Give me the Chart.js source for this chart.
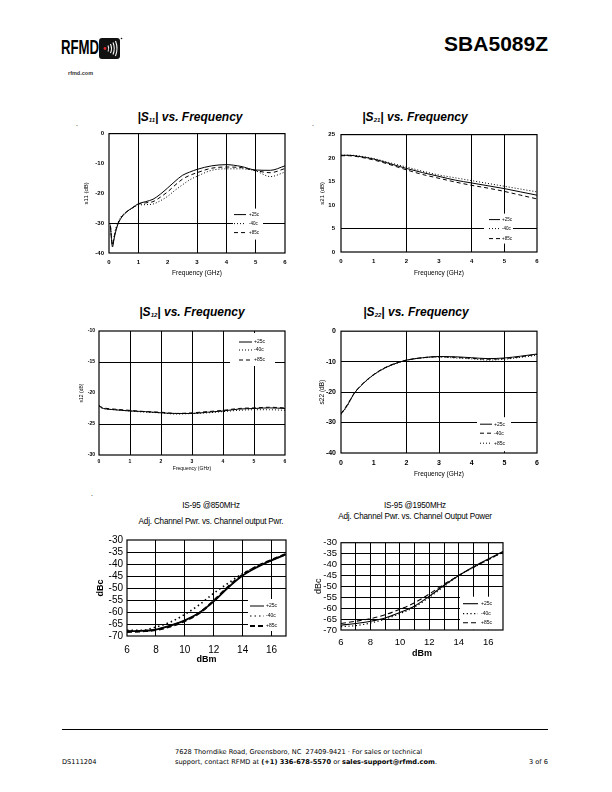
<!DOCTYPE html>
<html>
<head>
<meta charset="utf-8">
<script src="https://cdn.jsdelivr.net/npm/chart.js@4.4.0/dist/chart.umd.min.js"></script>
<style>
  body { margin: 0; width: 612px; height: 792px; position: relative; background: #fff; color: #000;
         font-family: "Liberation Sans", Arial, sans-serif; overflow: hidden; }
  .abs { position: absolute; white-space: nowrap; }
  .ttl { font-weight: bold; font-style: italic; font-size: 12px; line-height: 14px; transform: translateX(-50%); }
  .ttl sub { font-size: 6px; vertical-align: -1px; }
  .sub { font-family: "Liberation Sans Narrow", "Liberation Sans", Arial, sans-serif; font-size: 9px;
         line-height: 10px; letter-spacing: -0.2px; transform: translateX(-50%) scaleX(0.9); }
  .rod { font-family: "DejaVu Sans", sans-serif; font-size: 6.6px; line-height: 10px; }
  canvas { position: absolute; }
</style>
</head>
<body>

<!-- cabeçalho -->
<div class="abs" style="left:61px;top:35px;font-weight:bold;font-size:20px;line-height:24px;transform:scaleX(0.66);transform-origin:0 0;">RFMD</div>
<svg class="abs" style="left:99px;top:37px" width="24" height="23" viewBox="0 0 24 23">
  <rect x="0" y="1" width="21" height="21" rx="3" fill="#111"/>
  <circle cx="6" cy="11.5" r="1.4" fill="#e0262b"/>
  <path d="M9 8.5 Q10.5 11.5 9 14.5 M11.5 7 Q13.5 11.5 11.5 16 M14 5.5 Q16.5 11.5 14 17.5 M16.5 4 Q19.5 11.5 16.5 19"
        stroke="#fff" stroke-width="1.1" fill="none"/>
  <circle cx="22.5" cy="1.5" r="0.8" fill="#111"/>
</svg>
<div class="abs" style="left:68px;top:70px;font-size:5.5px;font-weight:bold;color:#333;">rfmd.com</div>
<div class="abs" style="right:64px;top:32px;font-size:21px;font-weight:bold;line-height:24px;">SBA5089Z</div>

<!-- títulos -->
<div class="abs ttl" style="left:190px;top:110px">|S<sub>11</sub>| vs. Frequency</div>
<div class="abs ttl" style="left:415px;top:110px">|S<sub>21</sub>| vs. Frequency</div>
<div class="abs ttl" style="left:192px;top:305px">|S<sub>12</sub>| vs. Frequency</div>
<div class="abs ttl" style="left:416px;top:305px">|S<sub>22</sub>| vs. Frequency</div>

<div class="abs sub" style="left:211px;top:500px">IS-95 @850MHz</div>
<div class="abs sub" style="left:211px;top:516px">Adj. Channel Pwr. vs. Channel output Pwr.</div>
<div class="abs sub" style="left:415px;top:500px">IS-95 @1950MHz</div>
<div class="abs sub" style="left:415px;top:511px">Adj. Channel Pwr. vs. Channel Output Power</div>

<div class="abs" style="left:76px;top:120px;font-size:7px">.</div>
<div class="abs" style="left:312px;top:120px;font-size:7px">.</div>
<div class="abs" style="left:91px;top:490px;font-size:7px">.</div>

<!-- rodapé -->
<div class="abs" style="left:62px;top:729px;width:486px;height:1px;background:#000"></div>
<div class="abs rod" style="left:62px;top:757px">DS111204</div>
<div class="abs rod" style="left:306px;top:747px;transform:translateX(-50%);text-align:left">
  7628 Thorndike Road, Greensboro, NC&nbsp; 27409-9421 · For sales or technical<br>
  support, contact RFMD at <b>(+1) 336-678-5570</b> or <b>sales-support@rfmd.com</b>.
</div>
<div class="abs rod" style="right:64px;top:757px">3 of 6</div>

<script>
/* Dados (dB x GHz / dBc x dBm) */
const S11_FREQ = [0.05, 0.08, 0.12, 0.16, 0.2, 0.3, 0.4, 0.55, 0.8, 1.0, 1.25, 1.5, 1.75, 2.0, 2.25, 2.5, 2.75, 3.0, 3.5, 4.0, 4.5, 5.0, 5.5, 6.0];
const S11_P25 = [-31, -35, -38, -36, -34, -30.5, -28.5, -26.7, -24.8, -23.5, -22.8, -22, -20.3, -18.2, -16, -14, -12.9, -12, -10.8, -10.4, -11, -12.2, -12.3, -10.8];
const S11_M40 = [-30.5, -34, -37, -35.5, -33, -30, -28, -26.5, -25, -24, -23.8, -23.6, -22.5, -21, -19, -17.2, -15.5, -14.3, -12.3, -11.8, -11.8, -12.5, -14.4, -12.9];
const S11_P85 = [-31, -34.5, -37.5, -35.5, -33.5, -30.3, -28.3, -26.6, -24.9, -23.7, -23.2, -22.8, -21.3, -19.5, -17.3, -15.3, -14, -13.1, -11.6, -11.2, -11.4, -12.4, -13.1, -11.7];

const S21_FREQ = [0, 0.25, 0.5, 1, 1.5, 2, 2.5, 3, 3.5, 4, 4.5, 5, 5.5, 6];
const S21_P25 = [20.6, 20.6, 20.4, 19.8, 18.8, 17.8, 16.9, 16.1, 15.3, 14.7, 14.1, 13.5, 12.8, 12.1];
const S21_M40 = [20.6, 20.6, 20.5, 19.9, 19.0, 18.1, 17.2, 16.4, 15.8, 15.2, 14.6, 14.0, 13.4, 12.8];
const S21_P85 = [20.5, 20.5, 20.3, 19.6, 18.6, 17.5, 16.5, 15.7, 14.9, 14.2, 13.6, 12.9, 12.1, 11.3];

const S12_FREQ = [0, 0.05, 0.15, 0.5, 1, 1.5, 2, 2.5, 3, 3.5, 4, 4.5, 5, 5.5, 6];
const S12_P25 = [-22.0, -22.3, -22.5, -22.7, -22.9, -23.0, -23.2, -23.3, -23.3, -23.1, -22.9, -22.6, -22.5, -22.4, -22.5];
const S12_M40 = [-22.1, -22.3, -22.5, -22.7, -22.9, -23.1, -23.2, -23.4, -23.3, -23.2, -23.0, -22.8, -22.7, -22.7, -22.8];
const S12_P85 = [-22.0, -22.2, -22.4, -22.6, -22.8, -23.0, -23.1, -23.3, -23.2, -23.0, -22.8, -22.5, -22.4, -22.3, -22.4];

const S22_FREQ = [0, 0.1, 0.2, 0.3, 0.4, 0.6, 0.8, 1, 1.25, 1.5, 1.75, 2, 2.5, 3, 3.5, 4, 4.5, 5, 5.5, 6];
const S22_P25 = [-27.2, -25.8, -24.2, -22.3, -20.5, -18, -16, -14.3, -12.6, -11.3, -10.3, -9.5, -8.7, -8.3, -8.4, -8.7, -9.0, -8.8, -8.2, -7.5];
const S22_M40 = [-27, -25.6, -24, -22.2, -20.4, -17.9, -15.9, -14.2, -12.5, -11.2, -10.2, -9.5, -8.7, -8.4, -8.6, -8.9, -9.2, -9.0, -8.4, -7.6];
const S22_P85 = [-27.4, -26, -24.4, -22.5, -20.6, -18.1, -16.1, -14.4, -12.7, -11.4, -10.4, -9.6, -8.8, -8.5, -8.8, -9.1, -9.5, -9.2, -8.6, -7.9];

const ACP_POUT = [6, 7, 8, 9, 10, 11, 12, 13, 14, 15, 16, 17];
const ACP850_P25 = [-68, -67.9, -67.3, -65.7, -63.5, -60.3, -55.6, -49.8, -44.8, -41.3, -38.5, -36];
const ACP850_M40 = [-67.6, -67.6, -66.3, -64.2, -61, -57, -52.2, -48, -44, -41, -38.4, -36];
const ACP850_P85 = [-68.3, -68, -67.5, -66, -63.7, -60.5, -55.3, -49.5, -44.5, -41, -38.3, -35.8];
const ACP1950_P25 = [-67.8, -67, -66, -64.5, -62, -59, -54.5, -49.5, -45, -41, -37.5, -34];
const ACP1950_M40 = [-68.5, -68, -66.8, -65, -62.5, -59.5, -55, -50, -45, -41.3, -37.8, -34.3];
const ACP1950_P85 = [-67, -66, -64.8, -63, -60.5, -57.5, -53.5, -49, -45, -41.2, -37.8, -34.2];

const FREQ_TICKS = [0, 1, 2, 3, 4, 5, 6];
const ACP_X_TICKS = [6, 8, 10, 12, 14, 16];
const ACP1950_X_GRID = [7, 8, 9, 10, 11, 12, 13, 14, 15, 16];
const ACP_Y_TICKS = [-30, -35, -40, -45, -50, -55, -60, -65, -70];
const TEMP_LABELS = ["+25c", "-40c", "+85c"];

const PONTILHADO = [1, 2];
const TRACEJADO = [4, 3];

function pontos(xs, ys) { return xs.map((x, i) => ({ x, y: ys[i] })); }

function serie(label, xs, ys, dash, largura) {
  return {
    label, data: pontos(xs, ys), borderColor: "#000", borderWidth: largura || 1,
    borderDash: dash || [], pointRadius: 0, fill: false, cubicInterpolationMode: "monotone",
  };
}

/* moldura do gráfico */
const moldura = {
  id: "moldura",
  afterDatasetsDraw(chart) {
    const { ctx, chartArea: a } = chart;
    ctx.save();
    ctx.strokeStyle = "#000";
    ctx.lineWidth = 1.2;
    ctx.strokeRect(a.left, a.top, a.right - a.left, a.bottom - a.top);
    ctx.restore();
  },
};

/* legenda branca dentro da área de plotagem */
const legenda = {
  id: "legenda",
  beforeDatasetsDraw(chart, args, o) {
    if (!o || !o.caixa) return;
    const { ctx, chartArea: a } = chart;
    ctx.save();
    ctx.fillStyle = "#fff";
    ctx.fillRect(a.left + o.caixa[0], a.top + o.caixa[1], o.caixa[2], o.caixa[3]);
    chart.data.datasets.forEach((ds, i) => {
      const y = a.top + o.linhas[i];
      ctx.strokeStyle = "#000";
      ctx.lineWidth = o.larguras ? o.larguras[i] : ds.borderWidth;
      ctx.setLineDash(ds.borderDash || []);
      ctx.beginPath();
      ctx.moveTo(a.left + o.traco[0], y);
      ctx.lineTo(a.left + o.traco[1], y);
      ctx.stroke();
      ctx.setLineDash([]);
      ctx.fillStyle = "#000";
      ctx.font = o.fonte;
      ctx.textBaseline = "middle";
      ctx.fillText(ds.label, a.left + o.texto, y);
    });
    ctx.restore();
  },
};

function montarGrafico(c) {
  const lhY = c.yTitulo.font.size * 1.2;
  const lhX = c.xTitulo.font.size * 1.2;
  const yW = c.area.l - c.yTituloX + 10;
  const xH = c.xTituloY - c.area.b + 8;
  const padT = 8, padR = 12;
  const cv = document.createElement("canvas");
  cv.width = yW + c.area.r - c.area.l + padR;
  cv.height = padT + c.area.b - c.area.t + xH;
  cv.style.left = (c.area.l - yW) + "px";
  cv.style.top = (c.area.t - padT) + "px";
  document.body.appendChild(cv);

  return new Chart(cv, {
    type: "line",
    data: { datasets: c.series },
    plugins: [legenda, moldura],
    options: {
      responsive: false,
      animation: false,
      layout: { padding: { top: padT, right: padR, left: 0, bottom: 0 } },
      plugins: { legend: { display: false }, tooltip: { enabled: false }, legenda: c.legenda },
      scales: {
        x: {
          type: "linear", min: c.xMin, max: c.xMax,
          afterBuildTicks: s => { s.ticks = c.xTicks.map(v => ({ value: v })); },
          afterFit: s => { s.height = xH; },
          grid: { drawTicks: false, lineWidth: 1, color: k => (c.xGrade.includes(k.tick.value) ? "#000" : "rgba(0,0,0,0)") },
          border: { display: false },
          ticks: { padding: c.xPad, font: c.fonteTick, color: "#000", autoSkip: false, maxRotation: 0,
                   callback: v => (c.xRotulos.includes(v) ? String(v) : "") },
          title: { display: true, text: c.xTitulo.text, font: c.xTitulo.font, color: "#000",
                   padding: { top: 0, bottom: 8 - lhX / 2 } },
        },
        y: {
          type: "linear", min: c.yMin, max: c.yMax,
          afterBuildTicks: s => { s.ticks = c.yTicks.map(v => ({ value: v })); },
          afterFit: s => { s.width = yW; },
          grid: { drawTicks: false, lineWidth: 1, color: k => (c.yGrade.includes(k.tick.value) ? "#000" : "rgba(0,0,0,0)") },
          border: { display: false },
          ticks: { padding: c.yPad, font: c.fonteTick, color: "#000", autoSkip: false },
          title: { display: true, text: c.yTitulo.text, font: c.yTitulo.font, color: "#000",
                   padding: { top: 10 - lhY / 2, bottom: 0 } },
        },
      },
    },
  });
}

const FAM = "'Liberation Sans', Arial, sans-serif";
const FAM_N = "'Liberation Sans Narrow', 'Liberation Sans', Arial, sans-serif";

/* |S11| */
montarGrafico({
  area: { l: 109, r: 285, t: 133, b: 253 },
  xMin: 0, xMax: 6, yMin: -40, yMax: 0,
  xTicks: FREQ_TICKS, xRotulos: FREQ_TICKS, yTicks: [0, -10, -20, -30, -40],
  xGrade: [1, 3, 4, 5], yGrade: [-30],
  fonteTick: { family: FAM, size: 6, weight: "bold" }, xPad: 6, yPad: 5,
  xTitulo: { text: "Frequency (GHz)", font: { family: FAM, size: 6.5 } }, xTituloY: 273,
  yTitulo: { text: "s11 (dB)", font: { family: FAM, size: 6 } }, yTituloX: 86,
  legenda: { caixa: [124, 75, 30, 31], linhas: [81, 90, 99], traco: [125, 137], texto: 140, fonte: "4.5px " + FAM },
  series: [
    serie(TEMP_LABELS[0], S11_FREQ, S11_P25),
    serie(TEMP_LABELS[1], S11_FREQ, S11_M40, PONTILHADO),
    serie(TEMP_LABELS[2], S11_FREQ, S11_P85, TRACEJADO),
  ],
});

/* |S21| */
montarGrafico({
  area: { l: 341, r: 537, t: 133, b: 252 },
  xMin: 0, xMax: 6, yMin: 0, yMax: 25,
  xTicks: FREQ_TICKS, xRotulos: FREQ_TICKS, yTicks: [25, 20, 15, 10, 5, 0],
  xGrade: [2, 4, 5], yGrade: [5],
  fonteTick: { family: FAM, size: 6, weight: "bold" }, xPad: 6, yPad: 6,
  xTitulo: { text: "Frequency (GHz)", font: { family: FAM, size: 6.5 } }, xTituloY: 273,
  yTitulo: { text: "s21 (dB)", font: { family: FAM, size: 6 } }, yTituloX: 322,
  legenda: { caixa: [143, 79, 29, 30], linhas: [85, 94, 104], traco: [148, 159], texto: 161, fonte: "4.5px " + FAM },
  series: [
    serie(TEMP_LABELS[0], S21_FREQ, S21_P25),
    serie(TEMP_LABELS[1], S21_FREQ, S21_M40, PONTILHADO),
    serie(TEMP_LABELS[2], S21_FREQ, S21_P85, TRACEJADO),
  ],
});

/* |S12| */
montarGrafico({
  area: { l: 99, r: 285, t: 331, b: 455 },
  xMin: 0, xMax: 6, yMin: -30, yMax: -10,
  xTicks: FREQ_TICKS, xRotulos: FREQ_TICKS, yTicks: [-10, -15, -20, -25, -30],
  xGrade: [1, 2, 3, 4, 5], yGrade: [-15, -25],
  fonteTick: { family: FAM, size: 5, weight: "bold" }, xPad: 4, yPad: 4,
  xTitulo: { text: "Frequency (GHz)", font: { family: FAM, size: 5 } }, xTituloY: 469,
  yTitulo: { text: "s12 (dB)", font: { family: FAM, size: 5 } }, yTituloX: 82,
  legenda: { caixa: [131, 2, 45, 33], linhas: [11, 19, 29], traco: [140, 153], texto: 155, fonte: "5px " + FAM },
  series: [
    serie(TEMP_LABELS[0], S12_FREQ, S12_P25),
    serie(TEMP_LABELS[1], S12_FREQ, S12_M40, PONTILHADO),
    serie(TEMP_LABELS[2], S12_FREQ, S12_P85, TRACEJADO),
  ],
});

/* |S22| */
montarGrafico({
  area: { l: 341, r: 537, t: 330, b: 453 },
  xMin: 0, xMax: 6, yMin: -40, yMax: 0,
  xTicks: FREQ_TICKS, xRotulos: FREQ_TICKS, yTicks: [0, -10, -20, -30, -40],
  xGrade: [2, 3, 5], yGrade: [-10, -20, -30],
  fonteTick: { family: FAM, size: 7, weight: "bold" }, xPad: 6, yPad: 5,
  xTitulo: { text: "Frequency (GHz)", font: { family: FAM, size: 6.5 } }, xTituloY: 474,
  yTitulo: { text: "s22 (dB)", font: { family: FAM, size: 6.5 } }, yTituloX: 322,
  legenda: { caixa: [136, 86, 34, 34], linhas: [93, 102, 112], traco: [139, 151], texto: 153, fonte: "5px " + FAM },
  series: [
    serie(TEMP_LABELS[0], S22_FREQ, S22_P25),
    serie(TEMP_LABELS[1], S22_FREQ, S22_M40, TRACEJADO),
    serie(TEMP_LABELS[2], S22_FREQ, S22_P85, PONTILHADO),
  ],
});

/* ACP @850MHz */
montarGrafico({
  area: { l: 127, r: 286, t: 538, b: 636 },
  xMin: 6, xMax: 17, yMin: -70, yMax: -30,
  xTicks: ACP_X_TICKS, xRotulos: ACP_X_TICKS, yTicks: ACP_Y_TICKS,
  xGrade: [8, 10, 12, 14, 16], yGrade: [-35, -40, -45, -50, -55, -60, -65],
  fonteTick: { family: FAM_N, size: 10 }, xPad: 8, yPad: 4,
  xTitulo: { text: "dBm", font: { family: FAM_N, size: 9, weight: "bold" } }, xTituloY: 660,
  yTitulo: { text: "dBc", font: { family: FAM_N, size: 9, weight: "bold" } }, yTituloX: 101,
  legenda: { caixa: [121, 59, 40, 32], linhas: [66, 76, 86], traco: [123, 137], texto: 139,
             larguras: [1, 1.2, 2.2], fonte: "5px " + FAM },
  series: [
    serie(TEMP_LABELS[0], ACP_POUT, ACP850_P25, [], 1.8),
    serie(TEMP_LABELS[1], ACP_POUT, ACP850_M40, [1.5, 3], 1.6),
    serie(TEMP_LABELS[2], ACP_POUT, ACP850_P85, [5, 3], 2.2),
  ],
});

/* ACP @1950MHz */
montarGrafico({
  area: { l: 341, r: 503, t: 541, b: 630 },
  xMin: 6, xMax: 17, yMin: -70, yMax: -30,
  xTicks: ACP_POUT, xRotulos: ACP_X_TICKS, yTicks: ACP_Y_TICKS,
  xGrade: ACP1950_X_GRID, yGrade: [-35, -40, -45, -50, -55, -60, -65],
  fonteTick: { family: FAM_N, size: 9.5 }, xPad: 7, yPad: 4,
  xTitulo: { text: "dBm", font: { family: FAM_N, size: 9, weight: "bold" } }, xTituloY: 654,
  yTitulo: { text: "dBc", font: { family: FAM_N, size: 9 } }, yTituloX: 319,
  legenda: { caixa: [119, 54, 44, 33], linhas: [61, 71, 80], traco: [122, 137], texto: 140, fonte: "5px " + FAM },
  series: [
    serie(TEMP_LABELS[0], ACP_POUT, ACP1950_P25, [], 1.1),
    serie(TEMP_LABELS[1], ACP_POUT, ACP1950_M40, [1.2, 2.5], 1.2),
    serie(TEMP_LABELS[2], ACP_POUT, ACP1950_P85, [5, 3], 1.1),
  ],
});
</script>
</body>
</html>
